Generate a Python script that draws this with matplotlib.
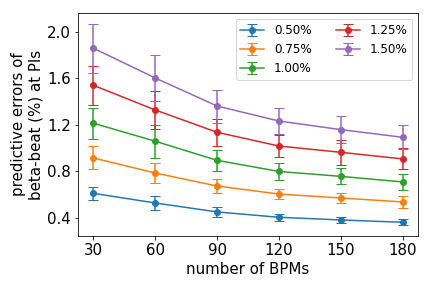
import matplotlib
matplotlib.use("Agg")
import matplotlib.pyplot as plt

bpms = [30, 60, 90, 120, 150, 180]
labels = ["0.50%", "0.75%", "1.00%", "1.25%", "1.50%"]
means = [
    [0.612, 0.529, 0.452, 0.406, 0.383, 0.363],
    [0.916, 0.787, 0.675, 0.606, 0.572, 0.538],
    [1.215, 1.060, 0.896, 0.800, 0.758, 0.710],
    [1.541, 1.329, 1.137, 1.019, 0.965, 0.908],
    [1.860, 1.604, 1.363, 1.234, 1.160, 1.094],
]
errs = [
    [0.056, 0.059, 0.040, 0.030, 0.029, 0.026],
    [0.099, 0.089, 0.057, 0.046, 0.046, 0.049],
    [0.133, 0.140, 0.092, 0.073, 0.069, 0.067],
    [0.166, 0.163, 0.116, 0.097, 0.108, 0.090],
    [0.211, 0.198, 0.142, 0.112, 0.115, 0.103],
]
colors = ["#1f77b4", "#ff7f0e", "#2ca02c", "#d62728", "#9467bd"]

fig, ax = plt.subplots(figsize=(6, 4), dpi=72)
for m, e, lab, c in zip(means, errs, labels, colors):
    ax.errorbar(bpms, m, yerr=e, marker="o", color=c, label=lab, capsize=5, markersize=6)

ax.set_xticks(bpms)
ax.set_yticks([0.4, 0.8, 1.2, 1.6, 2.0])
ax.set_xlim(22.5, 187.5)
ax.set_ylim(0.245, 2.163)
ax.tick_params(labelsize=15)
ax.set_xlabel("number of BPMs", fontsize=15)
ax.set_ylabel("predictive errors of\nbeta-beat (%) at PIs", fontsize=15)
ax.legend(ncol=2, fontsize=12, loc="upper right")
fig.subplots_adjust(left=78/432, right=418/432, top=1-13/288, bottom=1-236/288)
fig.savefig("out.png", dpi=72)
